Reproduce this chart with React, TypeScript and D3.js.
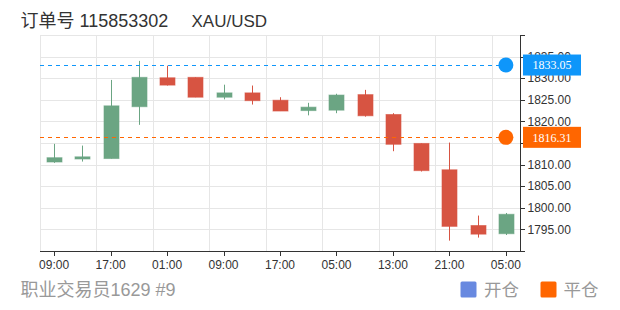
import React from "react";
import * as d3 from "d3";

const categories = ["09:00","13:00","17:00","21:00","01:00","05:00","09:00","13:00","17:00","21:00","05:00","09:00","13:00","17:00","21:00","01:00","05:00"];
const openVals  = [1810.6,1811.3,1811.4,1823.4,1830.1,1830.2,1825.6,1826.6,1824.9,1822.5,1822.6,1826.2,1821.6,1814.9,1808.8,1795.9,1794.0];
const closeVals = [1811.6,1811.8,1823.6,1830.2,1828.4,1825.6,1826.6,1824.8,1822.4,1823.3,1826.1,1821.3,1814.7,1808.6,1795.7,1793.9,1798.5];
const highVals  = [1814.8,1814.4,1829.6,1834.0,1832.9,1830.2,1828.5,1828.3,1825.6,1824.3,1826.4,1827.3,1821.9,1814.9,1815.1,1798.2,1798.8];
const lowVals   = [1810.4,1810.7,1811.4,1819.2,1828.3,1825.6,1825.1,1823.9,1822.4,1821.4,1821.9,1821.1,1813.1,1808.4,1792.4,1793.1,1793.7];
const yTicks = [1790,1795,1800,1805,1810,1815,1820,1825,1830,1835,1840];
const yLabels = [1795,1800,1805,1810,1820,1825,1830,1835];
const openPrice = 1833.05;
const closePrice = 1816.31;
const titleOrder = "订单号 115853302";
const titleSymbol = "XAU/USD";
const traderName = "职业交易员1629 #9";
const legendItems = ["开仓", "平仓"];

const UP = "#6ba583";
const DOWN = "#d75442";
const BLUE = "#0e96fa";
const ORANGE = "#ff6600";
const LEGEND_BLUE = "#6889e0";
const SANS = "'Liberation Sans', 'Noto Sans CJK SC', sans-serif";

export default function App() {
  const W = 620, H = 310;
  const left = 40, right = 520, top = 35, bottom = 251;
  const idx = categories.map((_, i) => i);
  const x = d3.scaleBand<number>().domain(idx).range([left, right]).padding(0);
  const y = d3.scaleLinear().domain([1790, 1840]).range([bottom, top]);
  const bw = x.bandwidth();
  const cx = (i: number) => (x(i) as number) + bw / 2;
  const bodyW = 15;
  const lastX = cx(categories.length - 1);
  const snap = (v: number) => Math.round(v) + 0.5;

  const splitX = idx.filter(i => i % 2 === 0).map(i => x(i) as number);

  return (
    <svg width={W} height={H} style={{ position: "absolute", left: 0, top: 0 }}>
      <rect x={0} y={0} width={W} height={H} fill="#fff" />
      <text x={20.5} y={27} fontFamily={SANS} fontSize={18} fill="#333">{titleOrder}</text>
      <text x={191.5} y={27} fontFamily={SANS} fontSize={17} fill="#333">{titleSymbol}</text>

      {/* grid */}
      {yTicks.map(t => (
        <line key={"h" + t} x1={left} x2={right} y1={snap(y(t))} y2={snap(y(t))} stroke="#e6e6e6" />
      ))}
      {splitX.map((sx, k) => (
        <line key={"v" + k} x1={snap(sx)} x2={snap(sx)} y1={top} y2={bottom} stroke="#e6e6e6" />
      ))}

      {/* candles */}
      {idx.map(i => {
        const o = openVals[i], c = closeVals[i];
        const col = c >= o ? UP : DOWN;
        const yt = y(Math.max(o, c));
        const yb = y(Math.min(o, c));
        const xc = snap(cx(i));
        return (
          <g key={"c" + i}>
            <line x1={xc} x2={xc} y1={y(highVals[i])} y2={y(lowVals[i])} stroke={col} strokeWidth={1} />
            <rect x={xc - bodyW / 2} y={yt} width={bodyW} height={Math.max(1.5, yb - yt)} fill={col} stroke={col} strokeOpacity={0.6} strokeWidth={1} />
          </g>
        );
      })}

      {/* axes */}
      <line x1={left} x2={right} y1={bottom + 0.5} y2={bottom + 0.5} stroke="#333" />
      {idx.filter(i => i % 2 === 0).map(i => (
        <g key={"xt" + i}>
          <line x1={snap(cx(i))} x2={snap(cx(i))} y1={bottom} y2={bottom + 5} stroke="#333" />
          <text x={cx(i)} y={269} textAnchor="middle" fontFamily={SANS} fontSize={12} fill="#333">{categories[i]}</text>
        </g>
      ))}
      <line x1={right + 0.5} x2={right + 0.5} y1={top} y2={bottom + 1} stroke="#333" />
      {yTicks.map(t => (
        <line key={"yt" + t} x1={right} x2={right + 5} y1={snap(y(t))} y2={snap(y(t))} stroke="#333" />
      ))}
      {yLabels.map(t => (
        <text key={"yl" + t} x={527.5} y={y(t)} dy="0.35em" fontFamily={SANS} fontSize={12} fill="#333">{t.toFixed(2)}</text>
      ))}

      {/* position lines */}
      {[{ v: openPrice, c: BLUE }, { v: closePrice, c: ORANGE }].map((m, k) => (
        <g key={"m" + k}>
          <line x1={left} x2={lastX} y1={snap(y(m.v))} y2={snap(y(m.v))} stroke={m.c} strokeDasharray="4,4" strokeWidth={1} />
          <circle cx={lastX} cy={y(m.v)} r={7.5} fill={m.c} />
          <rect x={523} y={y(m.v) - 10.5} width={58} height={21} fill={m.c} />
          <text x={552} y={y(m.v)} dy="0.35em" textAnchor="middle" fontFamily="'Liberation Serif', serif" fontSize={12} fill="#fff">{m.v.toFixed(2)}</text>
        </g>
      ))}

      <text x={20.5} y={296} fontFamily={SANS} fontSize={18} fill="#999">{traderName}</text>

      {/* legend */}
      <rect x={460.5} y={281.5} width={16} height={16} rx={1.5} fill={LEGEND_BLUE} />
      <text x={484} y={296} fontFamily={SANS} fontSize={17.5} fill="#999">{legendItems[0]}</text>
      <rect x={540.5} y={281.5} width={16} height={16} rx={1.5} fill={ORANGE} />
      <text x={563.5} y={296} fontFamily={SANS} fontSize={17.5} fill="#999">{legendItems[1]}</text>
    </svg>
  );
}
